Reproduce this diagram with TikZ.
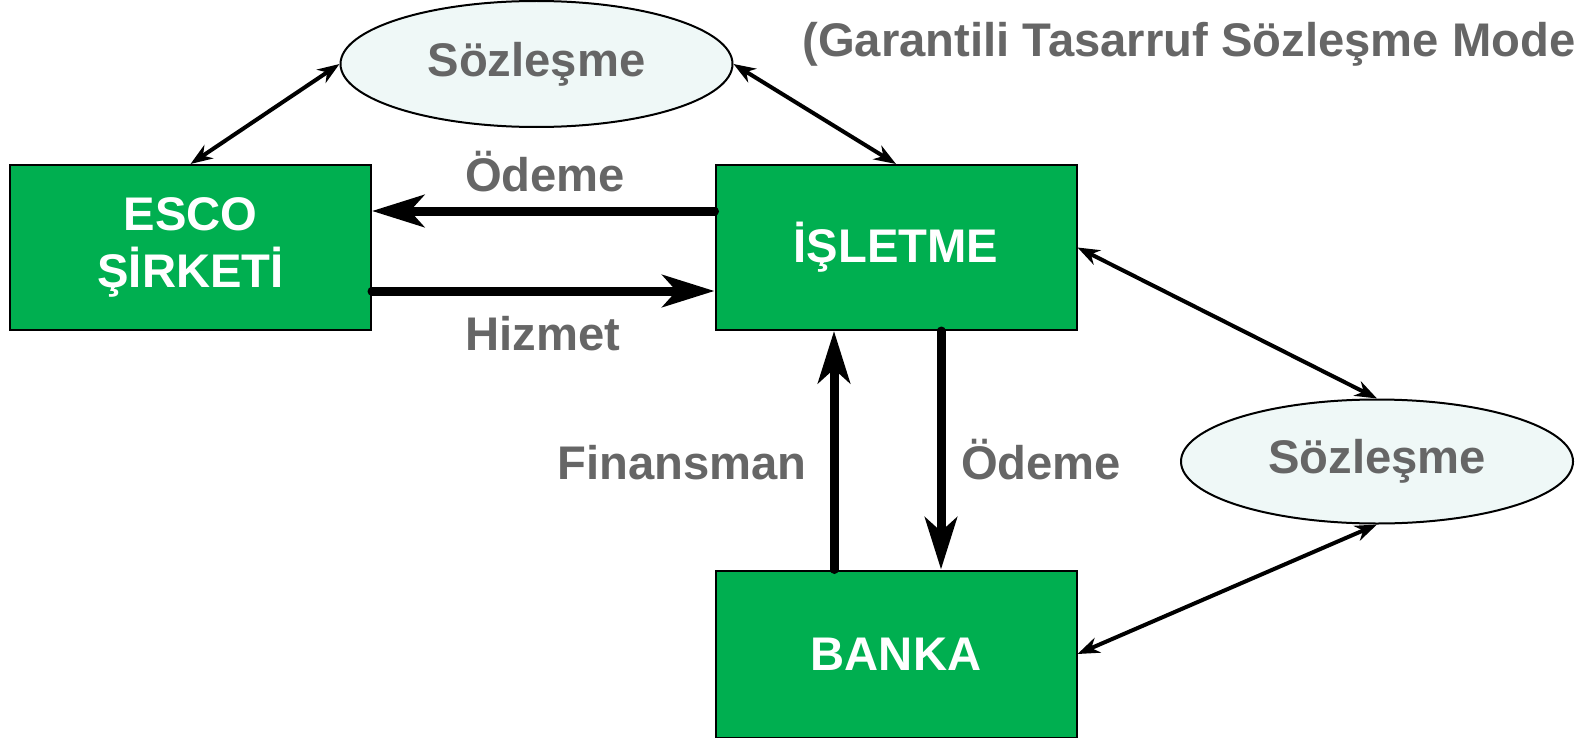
\documentclass[tikz,border=0pt]{standalone}
\usepackage{fontspec}
\setmainfont{Liberation Sans}
\usetikzlibrary{arrows.meta,shapes.geometric}
\definecolor{boxgreen}{HTML}{00AF50}
\definecolor{lblgrey}{HTML}{666666}
\definecolor{ellfill}{HTML}{EFF8F7}
\begin{document}
\begin{tikzpicture}[x=0.5pt,y=-0.5pt,
  font=\fontsize{23.6}{28.7}\selectfont\bfseries,
  greenbox/.style={draw=black,line width=1pt,fill=boxgreen,text=white,
    minimum width=180.5pt,minimum height=82.5pt,inner sep=0pt,align=center},
  contract/.style={ellipse,draw=black,line width=1pt,fill=ellfill,text=lblgrey,
    minimum width=196pt,minimum height=63pt,inner sep=0pt},
  lbl/.style={text=lblgrey,inner sep=0pt,anchor=base},
  thin/.style={line width=2pt,{Stealth[length=11pt,width=8pt,inset=3.5pt]}-{Stealth[length=11pt,width=8pt,inset=3.5pt]}},
  thick/.style={line width=4.5pt,line cap=round,-{Stealth[length=26pt,width=16pt,inset=7pt]}}]
\useasboundingbox (0,0) rectangle (1578,738);
\clip (0,0) rectangle (1578,738);
\node[greenbox] (esco) at (190.5,247.5) {ESCO\\ŞİRKETİ};
\node[greenbox] (isl) at (896,247.5) {İŞLETME};
\node[greenbox,minimum height=83.5pt] (banka) at (896,654) {BANKA};
\node[contract] (s1) at (536.5,64) {Sözleşme};
\node[contract,minimum height=62pt] (s2) at (1377,461.5) {Sözleşme};
\node[lbl,text=lblgrey,anchor=base west] (title) at (802,57) {(Garantili Tasarruf Sözleşme Modeli)};
\node[lbl] (l1) at (545,191) {Ödeme};
\node[lbl] (l2) at (543,350) {Hizmet};
\node[lbl] (l3) at (682,479) {Finansman};
\node[lbl] (l4) at (1041,479) {Ödeme};
% thin double arrows
\draw[thin] (esco.north) -- (s1.west);
\draw[thin] (s1.east) -- (isl.north);
\draw[thin] (isl.east) -- (s2.north);
\draw[thin] (s2.south) -- (banka.east);
% thick arrows
\coordinate (a1) at (isl.west |- 0,211);
\coordinate (b1) at (esco.east |- 0,211);
\draw[thick] (a1) -- (b1);
\coordinate (a2) at (esco.east |- 0,291);
\coordinate (b2) at (isl.west |- 0,291);
\draw[thick] (a2) -- (b2);
\coordinate (a3) at (834,0 |- banka.north);
\coordinate (b3) at (834,0 |- isl.south);
\draw[thick] (a3) -- (b3);
\coordinate (a4) at (941,0 |- isl.south);
\coordinate (b4) at (941,0 |- banka.north);
\draw[thick] (a4) -- (b4);
\end{tikzpicture}
\end{document}
